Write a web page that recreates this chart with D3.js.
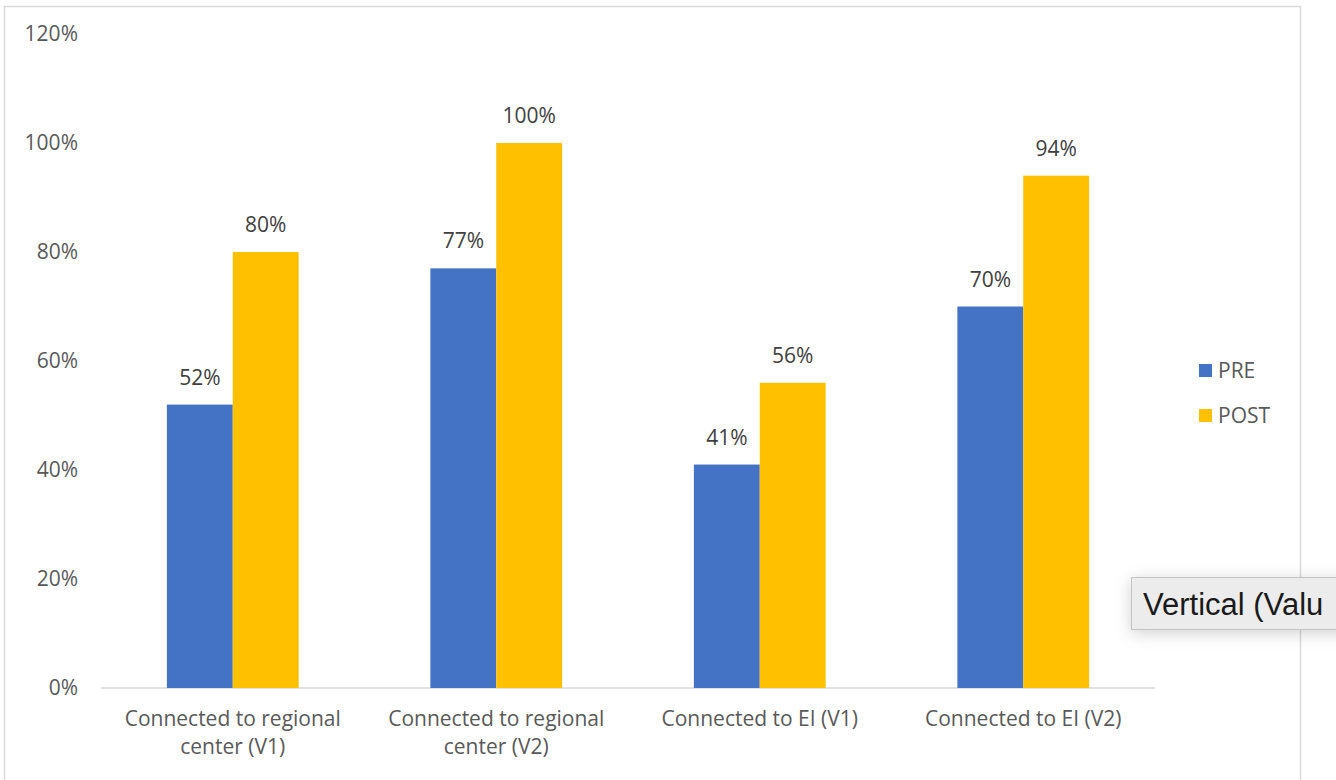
<!DOCTYPE html>
<html>
<head>
<meta charset="utf-8">
<script src="https://cdn.jsdelivr.net/npm/d3@7"></script>
<style>
  html, body { margin: 0; padding: 0; background: #fff; }
  svg text { font-family: "Open Sans", "Noto Sans", sans-serif; }
</style>
</head>
<body>
<div id="chart"></div>
<script>
var categories = [
  ['Connected to regional', 'center (V1)'],
  ['Connected to regional', 'center (V2)'],
  ['Connected to EI (V1)'],
  ['Connected to EI (V2)']
];
var seriesNames = ['PRE', 'POST'];
var preValues = [0.52, 0.77, 0.41, 0.70];
var postValues = [0.80, 1.00, 0.56, 0.94];
var yTicks = [0, 0.2, 0.4, 0.6, 0.8, 1.0, 1.2];

var colors = { PRE: '#4472C4', POST: '#FFC000' };

var W = 1336, H = 780;
var svg = d3.select('#chart').append('svg')
    .attr('width', W)
    .attr('height', H);

var defs = svg.append('defs');
var shadow = defs.append('filter')
    .attr('id', 'shadow')
    .attr('x', '-20%').attr('y', '-60%')
    .attr('width', '140%').attr('height', '220%');
shadow.append('feDropShadow')
    .attr('dx', 0).attr('dy', 3)
    .attr('stdDeviation', 8)
    .attr('flood-color', '#000')
    .attr('flood-opacity', 0.18);

// chart frame
svg.append('rect')
    .attr('x', 4.5).attr('y', 6.5)
    .attr('width', 1296).attr('height', 790)
    .attr('fill', '#fff')
    .attr('stroke', '#d9d9d9')
    .attr('stroke-width', 1.5);

var x0 = d3.scaleBand()
    .domain(d3.range(categories.length))
    .range([101, 1155]);

var x1 = d3.scaleBand()
    .domain(seriesNames)
    .range([0, x0.bandwidth()])
    .paddingInner(0)
    .paddingOuter(1);

var y = d3.scaleLinear()
    .domain([0, 1.2])
    .range([688, 34]);

// y tick labels
svg.append('g')
  .selectAll('text')
    .data(yTicks)
    .enter()
  .append('text')
    .attr('x', 78)
    .attr('y', function (d) { return y(d); })
    .attr('dy', '0.35em')
    .attr('text-anchor', 'end')
    .attr('font-size', 21)
    .attr('fill', '#595959')
    .text(d3.format('.0%'));

// baseline
svg.append('line')
    .attr('x1', 101).attr('x2', 1155)
    .attr('y1', y(0)).attr('y2', y(0))
    .attr('stroke', '#d9d9d9')
    .attr('stroke-width', 1.5);

var rows = categories.map(function (c, i) {
  return [
    { series: 'PRE', value: preValues[i], cat: i },
    { series: 'POST', value: postValues[i], cat: i }
  ];
});

var group = svg.selectAll('.grp')
    .data(rows)
    .enter()
  .append('g')
    .attr('class', 'grp')
    .attr('transform', function (d, i) { return 'translate(' + x0(i) + ',0)'; });

group.selectAll('rect')
    .data(function (d) { return d; })
    .enter()
  .append('rect')
    .attr('x', function (d) { return x1(d.series); })
    .attr('y', function (d) { return y(d.value); })
    .attr('width', x1.bandwidth())
    .attr('height', function (d) { return y(0) - y(d.value); })
    .attr('fill', function (d) { return colors[d.series]; });

group.selectAll('.lbl')
    .data(function (d) { return d; })
    .enter()
  .append('text')
    .attr('class', 'lbl')
    .attr('x', function (d) { return x1(d.series) + x1.bandwidth() / 2; })
    .attr('y', function (d) { return y(d.value) - 20; })
    .attr('text-anchor', 'middle')
    .attr('font-size', 21)
    .attr('fill', '#404040')
    .text(function (d) { return d3.format('.0%')(d.value); });

// category labels
svg.append('g')
  .selectAll('text')
    .data(categories)
    .enter()
  .append('text')
    .attr('x', function (d, i) { return x0(i) + x0.bandwidth() / 2; })
    .attr('y', 726)
    .attr('text-anchor', 'middle')
    .attr('font-size', 21)
    .attr('fill', '#595959')
  .selectAll('tspan')
    .data(function (d) { return d; })
    .enter()
  .append('tspan')
    .attr('x', function () { return d3.select(this.parentNode).attr('x'); })
    .attr('dy', function (d, i) { return i === 0 ? 0 : 28; })
    .text(function (d) { return d; });

// legend
var legend = svg.append('g')
  .selectAll('g')
    .data(seriesNames)
    .enter()
  .append('g')
    .attr('transform', function (d, i) { return 'translate(1199,' + (364 + i * 45) + ')'; });

legend.append('rect')
    .attr('width', 13).attr('height', 13)
    .attr('fill', function (d) { return colors[d]; });

legend.append('text')
    .attr('x', 19)
    .attr('y', 6.5)
    .attr('dy', '0.35em')
    .attr('font-size', 21)
    .attr('fill', '#595959')
    .text(function (d) { return d; });

// hover tooltip left on the screenshot
var tip = svg.append('g');
tip.append('rect')
    .attr('x', 1131.5).attr('y', 577.5)
    .attr('width', 240).attr('height', 52)
    .attr('fill', '#ececec')
    .attr('stroke', '#c4c4c4')
    .attr('filter', 'url(#shadow)');
tip.append('text')
    .attr('x', 1143)
    .attr('y', 615)
    .attr('font-size', 31)
    .attr('fill', '#1a1a1a')
    .style('font-family', '"Liberation Sans", Arial, sans-serif')
    .text('Vertical (Valu');
</script>
</body>
</html>
